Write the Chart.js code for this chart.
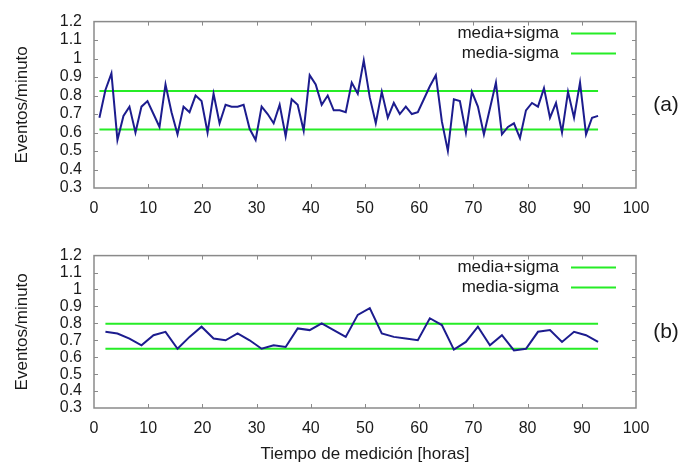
<!DOCTYPE html>
<html>
<head>
<meta charset="utf-8">
<script src="https://cdn.jsdelivr.net/npm/chart.js@4.4.1/dist/chart.umd.min.js"></script>
<style>
  html, body { margin: 0; padding: 0; background: #fff; }
  #wrap { position: relative; width: 697px; height: 468px; }
  canvas { position: absolute; left: 0; }
</style>
</head>
<body>
<div id="wrap">
  <canvas id="panelA" width="697" height="234" style="top:0"></canvas>
  <canvas id="panelB" width="697" height="234" style="top:234px"></canvas>
</div>
<script>
// primera y última medición (horas)
const horaInicial = 1.0;
const horaFinal = 93.0;

// (a) eventos/minuto de cada medición
const eventosMedicion = [
  0.68, 0.83, 0.92, 0.56, 0.69, 0.74, 0.60, 0.74, 0.77, 0.70, 0.63, 0.86, 0.71, 0.59, 0.74, 0.71, 0.80, 0.77, 0.60, 0.81, 0.65,
  0.75, 0.74, 0.74, 0.75, 0.62, 0.56, 0.74, 0.70, 0.65, 0.75, 0.58, 0.78, 0.75, 0.61, 0.91, 0.86, 0.75, 0.80, 0.72, 0.72, 0.71,
  0.87, 0.81, 0.99, 0.79, 0.65, 0.82, 0.68, 0.76, 0.70, 0.74, 0.70, 0.71, 0.78, 0.85, 0.91, 0.66, 0.50, 0.78, 0.77, 0.60, 0.82,
  0.74, 0.59, 0.73, 0.87, 0.59, 0.63, 0.65, 0.57, 0.72, 0.76, 0.74, 0.84, 0.68, 0.76, 0.60, 0.82, 0.68, 0.87, 0.59, 0.68, 0.69
];

// (b) promedio de cada par de mediciones
const eventosPromedio = [
  0.75, 0.74, 0.71, 0.67, 0.73, 0.75, 0.65, 0.72, 0.78, 0.71, 0.70, 0.74, 0.70, 0.65, 0.67, 0.66, 0.77, 0.76, 0.80, 0.76, 0.72,
  0.85, 0.89, 0.74, 0.72, 0.71, 0.70, 0.83, 0.79, 0.645, 0.69, 0.78, 0.67, 0.73, 0.64, 0.65, 0.75, 0.76, 0.69, 0.75, 0.73, 0.69
];

// media +/- sigma de cada serie
const sigmaA = [0.824, 0.617];
const sigmaB = [0.798, 0.650];
const etiquetasSigma = ['media+sigma', 'media-sigma'];

const xTicks = [0, 10, 20, 30, 40, 50, 60, 70, 80, 90, 100];
const yTicks = [0.3, 0.4, 0.5, 0.6, 0.7, 0.8, 0.9, 1.0, 1.1, 1.2];

// mediciones equiespaciadas entre la primera y la última hora
const paso = (horaFinal - horaInicial) / (eventosMedicion.length - 1);
const horas = eventosMedicion.map((_, i) => horaInicial + i * paso);
// el promedio se asigna a la segunda medición de cada par
const horasPromedio = eventosPromedio.map((_, i) => horas[2 * i + 1]);

const FONT = "'Liberation Sans', Arial, sans-serif";
const TEXTO = '#1a1a1a';
const MARCO = '#8a8a8a';
const AZUL = '#1c1c8e';
const VERDE = '#26ec26';

// marco completo con marcas hacia dentro en los cuatro lados
const marco = {
  id: 'marco',
  beforeDatasetsDraw(chart) {
    const { ctx, chartArea: a, scales: { x, y } } = chart;
    const L = 4;
    ctx.save();
    ctx.strokeStyle = MARCO;
    ctx.lineWidth = 1.5;
    ctx.strokeRect(a.left, a.top, a.right - a.left, a.bottom - a.top);
    ctx.lineWidth = 1;
    ctx.beginPath();
    xTicks.slice(1, -1).forEach(v => {
      const px = Math.round(x.getPixelForValue(v)) + 0.5;
      ctx.moveTo(px, a.bottom); ctx.lineTo(px, a.bottom - L);
      ctx.moveTo(px, a.top); ctx.lineTo(px, a.top + L);
    });
    yTicks.slice(1, -1).forEach(v => {
      const py = Math.round(y.getPixelForValue(v)) + 0.5;
      ctx.moveTo(a.left, py); ctx.lineTo(a.left + L, py);
      ctx.moveTo(a.right, py); ctx.lineTo(a.right - L, py);
    });
    ctx.stroke();
    ctx.restore();
  }
};

// leyenda arriba a la derecha (texto alineado a la derecha, muestra de línea después)
const leyenda = {
  id: 'leyenda',
  afterDraw(chart) {
    const { ctx, chartArea: a } = chart;
    ctx.save();
    ctx.font = `17px ${FONT}`;
    ctx.textAlign = 'right';
    ctx.textBaseline = 'middle';
    chart.data.datasets.filter(d => d.enLeyenda).forEach((d, i) => {
      const yy = a.top + 12 + i * 20;
      ctx.fillStyle = TEXTO;
      ctx.fillText(d.label, a.right - 77, yy);
      ctx.strokeStyle = d.borderColor;
      ctx.lineWidth = d.borderWidth;
      ctx.beginPath();
      ctx.moveTo(a.right - 65, yy);
      ctx.lineTo(a.right - 20, yy);
      ctx.stroke();
    });
    ctx.restore();
  }
};

// rótulo del panel, a la derecha del área de trazado
const rotulo = {
  id: 'rotulo',
  afterDraw(chart, args, opts) {
    const { ctx, chartArea: a } = chart;
    ctx.save();
    ctx.font = `21px ${FONT}`;
    ctx.fillStyle = TEXTO;
    ctx.textAlign = 'center';
    ctx.textBaseline = 'middle';
    ctx.fillText(opts.texto, a.right + 30, (a.top + a.bottom) / 2);
    ctx.restore();
  }
};

function panel(id, hx, vals, sigma, letra, padTop, altoX, conTitulo) {
  const linea = (v, i) => ({
    label: etiquetasSigma[i],
    enLeyenda: true,
    data: [{ x: hx[0], y: v }, { x: hx[hx.length - 1], y: v }],
    borderColor: VERDE,
    borderWidth: 2,
    pointRadius: 0
  });
  return new Chart(document.getElementById(id), {
    type: 'line',
    data: {
      datasets: [
        {
          label: 'eventos',
          data: hx.map((h, i) => ({ x: h, y: vals[i] })),
          borderColor: AZUL,
          borderWidth: 2,
          pointRadius: 0,
          tension: 0
        },
        ...sigma.map(linea)
      ]
    },
    options: {
      responsive: false,
      animation: false,
      layout: { padding: { top: padTop, right: 61, left: 0, bottom: 0 } },
      plugins: {
        legend: { display: false },
        tooltip: { enabled: false },
        rotulo: { texto: letra }
      },
      scales: {
        x: {
          type: 'linear',
          min: 0, max: 100,
          afterBuildTicks: s => { s.ticks = xTicks.map(v => ({ value: v })); },
          ticks: { color: TEXTO, font: { family: FONT, size: 16 }, padding: 11, maxRotation: 0, autoSkip: false },
          grid: { display: false, drawTicks: false },
          border: { display: false },
          title: {
            display: conTitulo,
            text: 'Tiempo de medición [horas]',
            color: TEXTO,
            font: { family: FONT, size: 17 },
            padding: { top: 0, bottom: 3 }
          },
          afterFit: s => { s.height = altoX; }
        },
        y: {
          min: 0.3, max: 1.2,
          afterBuildTicks: s => { s.ticks = yTicks.map(v => ({ value: v })); },
          ticks: {
            color: TEXTO, font: { family: FONT, size: 16 }, padding: 12, autoSkip: false,
            callback: v => String(Math.round(v * 10) / 10)
          },
          grid: { display: false, drawTicks: false },
          border: { display: false },
          title: {
            display: true,
            text: 'Eventos/minuto',
            color: TEXTO,
            font: { family: FONT, size: 17 },
            padding: { top: 12, bottom: 0 }
          },
          afterFit: s => { s.width = 94; }
        }
      }
    },
    plugins: [marco, leyenda, rotulo]
  });
}

panel('panelA', horas, eventosMedicion, sigmaA, '(a)', 15, 46, false);
panel('panelB', horasPromedio, eventosPromedio, sigmaB, '(b)', 1, 60, true);
</script>
</body>
</html>
